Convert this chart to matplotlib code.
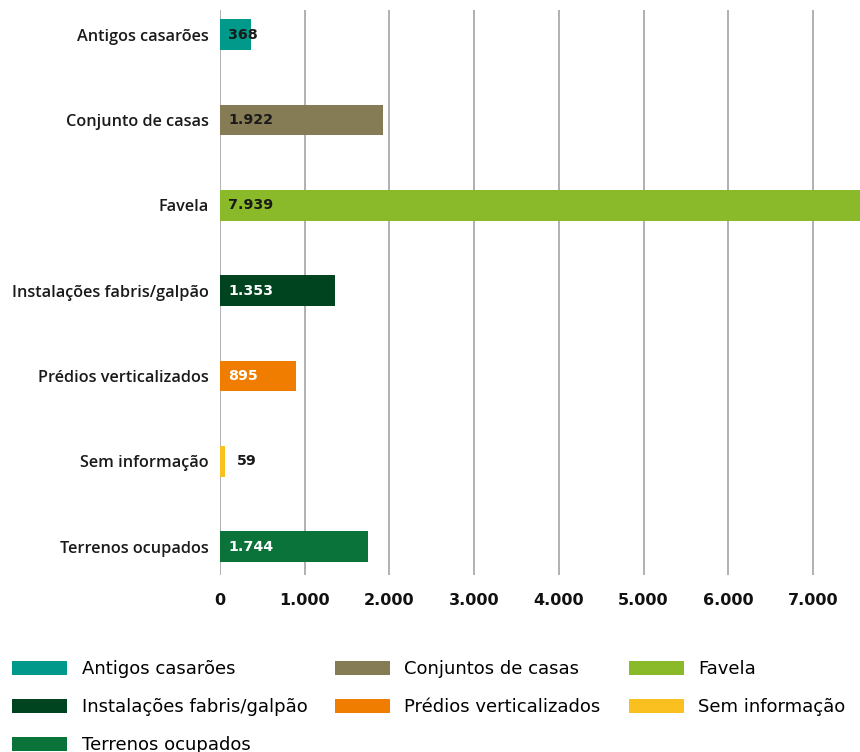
import matplotlib
matplotlib.use("Agg")
import matplotlib.pyplot as plt
from matplotlib.patches import Patch
from matplotlib.ticker import FuncFormatter

# Data
categories = [
    "Antigos casarões",
    "Conjunto de casas",
    "Favela",
    "Instalações fabris/galpão",
    "Prédios verticalizados",
    "Sem informação",
    "Terrenos ocupados",
]
values = [368, 1922, 7939, 1353, 895, 59, 1744]
legend_labels = [
    "Antigos casarões",
    "Conjuntos de casas",
    "Favela",
    "Instalações fabris/galpão",
    "Prédios verticalizados",
    "Sem informação",
    "Terrenos ocupados",
]
colors = ["#00998a", "#857b55", "#8aba2a", "#00441f", "#f07d00", "#f9c01f", "#0a7339"]
label_colors = ["#1a1a1a", "#1a1a1a", "#1a1a1a", "white", "white", "#1a1a1a", "white"]
x_ticks = [0, 1000, 2000, 3000, 4000, 5000, 6000, 7000]


def fmt_thousands(v):
    return f"{int(v):,}".replace(",", ".")


fig = plt.figure(figsize=(8.6, 7.52), dpi=100)
ax = fig.add_axes([0.2558, 0.2354, 0.7442, 0.7513])

y = list(range(len(categories)))
ax.barh(y, values, height=0.36, color=colors, zorder=3)

ax.set_xlim(0, 7556)
ax.set_ylim(len(categories) - 1 + 0.33, -0.29)
ax.set_xticks(x_ticks)
ax.xaxis.set_major_formatter(FuncFormatter(lambda v, p: fmt_thousands(v)))
ax.set_yticks(y)
ax.set_yticklabels(categories, fontfamily="Open Sans", fontweight="semibold",
                   fontsize=11.7, color="#1a1a1a")
for lab in ax.get_xticklabels():
    lab.set_fontfamily("DejaVu Sans")
    lab.set_fontweight("bold")
    lab.set_fontsize(11.5)
    lab.set_color("#111111")

ax.grid(axis="x", color="#aaaaaa", linewidth=1.3, zorder=0)
ax.tick_params(axis="x", length=0, pad=13)
ax.tick_params(axis="y", length=0, pad=8)
for s in ax.spines.values():
    s.set_visible(False)

# value labels
for i, (v, c) in enumerate(zip(values, label_colors)):
    txt = fmt_thousands(v)
    x = v + 140 if v < 200 else 100
    ax.text(x, i, txt, va="center", ha="left", color=c,
            fontfamily="DejaVu Sans", fontweight="bold", fontsize=10.3, zorder=4)

# legend, reordered so it reads row by row
handles = [Patch(facecolor=c, edgecolor="none") for c in colors]
order = [0, 3, 6, 1, 4, 2, 5]
fig.legend([handles[i] for i in order], [legend_labels[i] for i in order],
           ncol=3, loc="upper left", bbox_to_anchor=(-0.0045, 0.144),
           frameon=False, handlelength=3.05, handleheight=0.83, handletextpad=0.78,
           columnspacing=1.55, labelspacing=1.12, borderpad=0.4,
           prop={"family": "DejaVu Sans", "size": 13})

fig.savefig("out.png", dpi=100)
